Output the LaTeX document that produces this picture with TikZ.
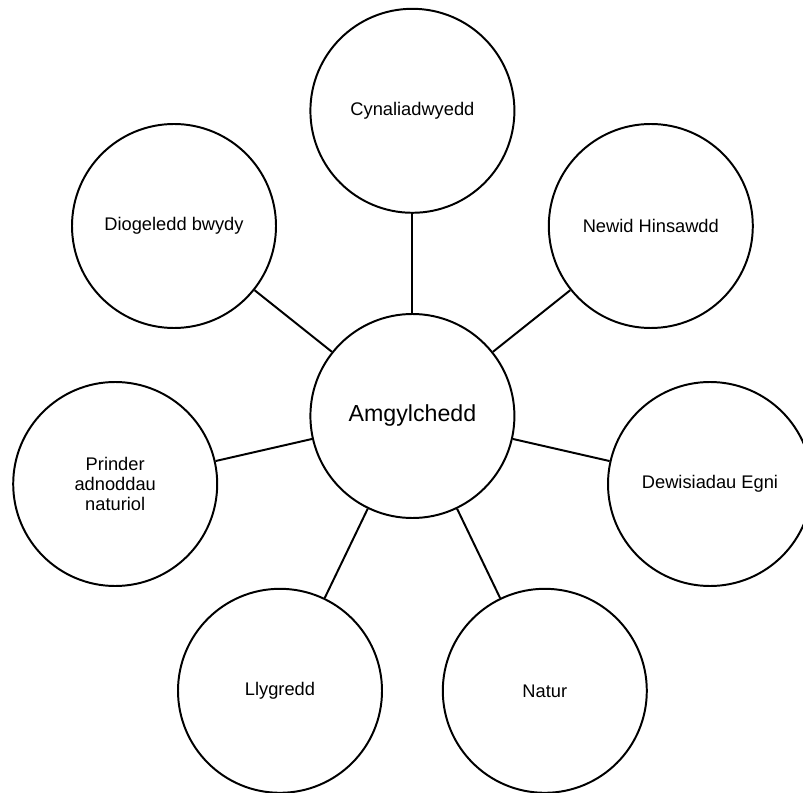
\documentclass[tikz,border=0pt]{standalone}
\usepackage{fontspec}
\setmainfont{Liberation Sans}
\begin{document}
\begin{tikzpicture}[bubble/.style={shape=circle,draw=black,line width=1.4pt,minimum size=5.1cm,inner sep=0pt,align=center,font=\fontsize{13}{14.5}\selectfont},
                    spoke/.style={line width=1.4pt}]
                \useasboundingbox (0,0) rectangle (20.075,19.8);
                \node[bubble,font=\fontsize{16.5}{18}\selectfont] (0) at (10.31,9.40) {Amgylchedd};
                \node[bubble] (1) at (10.31,17.03) {Cynaliadwyedd};
                \node[bubble] (2) at (16.27,14.15) {Newid Hinsawdd};
                \node[bubble] (3) at (17.75,7.70) {Dewisiadau Egni};
                \node[bubble] (4) at (13.62,2.53) {Natur};
                \node[bubble] (5) at (7.00,2.53) {Llygredd};
                \node[bubble] (6) at (2.88,7.70) {Prinder\\adnoddau\\naturiol};
                \node[bubble] (7) at (4.35,14.15) {Diogeledd bwydy};
                \path (0) edge[spoke] node[] {} (1);
                \path (0) edge[spoke] node[] {} (2);
                \path (0) edge[spoke] node[] {} (3);
                \path (0) edge[spoke] node[] {} (4);
                \path (0) edge[spoke] node[] {} (5);
                \path (0) edge[spoke] node[] {} (6);
                \path (0) edge[spoke] node[] {} (7);
            \end{tikzpicture}
\end{document}
